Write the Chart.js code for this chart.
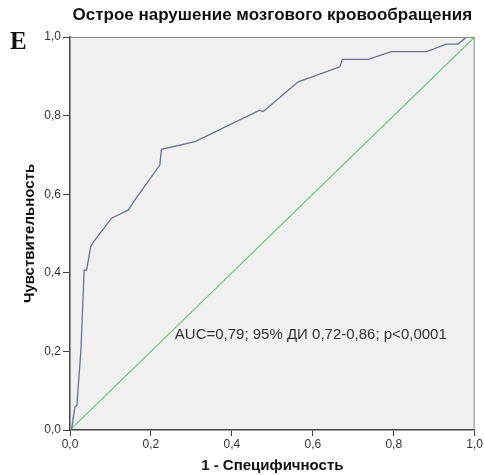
<!DOCTYPE html>
<html>
<head>
<meta charset="utf-8">
<script src="https://cdn.jsdelivr.net/npm/chart.js@4/dist/chart.umd.min.js"></script>
<style>
  html, body { margin: 0; padding: 0; background: #fff; }
  #wrap { width: 484px; height: 475px; position: relative; }
</style>
</head>
<body>
<div id="wrap"><canvas id="roc"></canvas></div>
<script>
// ROC curve points (1 - specificity, sensitivity)
const rocX = [0, 0.004, 0.012, 0.017, 0.027, 0.035, 0.041, 0.051, 0.058, 0.103, 0.144, 0.160, 0.222, 0.226, 0.309, 0.469, 0.477, 0.564, 0.667, 0.673, 0.737, 0.794, 0.881, 0.930, 0.959, 0.980, 1.0];
const rocY = [0, 0.002, 0.059, 0.062, 0.204, 0.407, 0.407, 0.466, 0.479, 0.539, 0.560, 0.585, 0.674, 0.714, 0.734, 0.814, 0.810, 0.886, 0.924, 0.943, 0.943, 0.963, 0.963, 0.982, 0.982, 1.0, 1.0];
const refX = [0, 1];
const refY = [0, 1];
const ticks = [0, 0.2, 0.4, 0.6, 0.8, 1.0];
const aucText = 'AUC=0,79; 95% ДИ 0,72-0,86; p<0,0001';

const fmt = v => v.toFixed(1).replace('.', ',');

// grey plot background, frame, panel letter and AUC note
const decor = {
  id: 'decor',
  beforeDraw(chart) {
    const { ctx, chartArea: a } = chart;
    ctx.save();
    ctx.fillStyle = '#f0f0f0';
    ctx.fillRect(a.left, a.top, a.right - a.left, a.bottom - a.top);
    ctx.restore();
  },
  afterDraw(chart) {
    const { ctx, chartArea: a, scales } = chart;
    ctx.save();
    ctx.strokeStyle = '#8a8a8a';
    ctx.lineWidth = 1;
    ctx.beginPath();
    ctx.moveTo(a.left, a.top + 0.5);
    ctx.lineTo(a.right - 0.5, a.top + 0.5);
    ctx.lineTo(a.right - 0.5, a.bottom);
    ctx.stroke();

    ctx.fillStyle = '#111';
    ctx.font = 'bold 25px "Liberation Serif"';
    ctx.textBaseline = 'middle';
    ctx.fillText('E', 10, 43);

    ctx.fillStyle = '#333';
    ctx.font = '15px "Liberation Sans"';
    ctx.fillText(aucText, scales.x.getPixelForValue(0.259), scales.y.getPixelForValue(0.242));
    ctx.restore();
  }
};

new Chart(document.getElementById('roc'), {
  type: 'scatter',
  data: {
    datasets: [
      {
        data: rocX.map((x, i) => ({ x: x, y: rocY[i] })),
        showLine: true,
        borderColor: '#66728f',
        borderWidth: 1.3,
        pointRadius: 0,
        tension: 0
      },
      {
        data: refX.map((x, i) => ({ x: x, y: refY[i] })),
        showLine: true,
        borderColor: '#6cc47c',
        borderWidth: 1.2,
        pointRadius: 0
      }
    ]
  },
  options: {
    responsive: true,
    maintainAspectRatio: false,
    animation: false,
    layout: { padding: { left: 0, right: 9, top: 0, bottom: 0 } },
    plugins: {
      legend: { display: false },
      tooltip: { enabled: false },
      title: {
        display: true,
        text: 'Острое нарушение мозгового кровообращения',
        fullSize: false,
        color: '#111',
        font: { family: 'Liberation Sans', size: 17, weight: 'bold' },
        padding: { top: 5, bottom: 11.6 }
      }
    },
    scales: {
      x: {
        type: 'linear',
        min: 0,
        max: 1,
        afterBuildTicks: s => { s.ticks = ticks.map(v => ({ value: v })); },
        afterFit: s => { s.height = 45; },
        ticks: {
          callback: v => fmt(v),
          color: '#333',
          font: { family: 'Liberation Sans', size: 12 },
          padding: 1,
          maxRotation: 0
        },
        grid: { drawOnChartArea: false, drawTicks: true, tickLength: 6, color: '#444' },
        border: { display: true, color: '#444', width: 1.5 },
        title: {
          display: true,
          text: '1 - Специфичность',
          color: '#111',
          font: { family: 'Liberation Sans', size: 15, weight: 'bold' },
          padding: { top: 0, bottom: 0 }
        }
      },
      y: {
        type: 'linear',
        min: 0,
        max: 1,
        afterBuildTicks: s => { s.ticks = ticks.map(v => ({ value: v })); },
        afterFit: s => { s.width = 70; },
        ticks: {
          callback: v => fmt(v),
          color: '#333',
          font: { family: 'Liberation Sans', size: 12 },
          padding: 2
        },
        grid: { drawOnChartArea: false, drawTicks: true, tickLength: 7, color: '#444' },
        border: { display: true, color: '#444', width: 1.5 },
        title: {
          display: true,
          text: 'Чувствительность',
          color: '#111',
          font: { family: 'Liberation Sans', size: 15, weight: 'bold' },
          padding: { top: 21, bottom: 0 }
        }
      }
    }
  },
  plugins: [decor]
});
</script>
</body>
</html>
